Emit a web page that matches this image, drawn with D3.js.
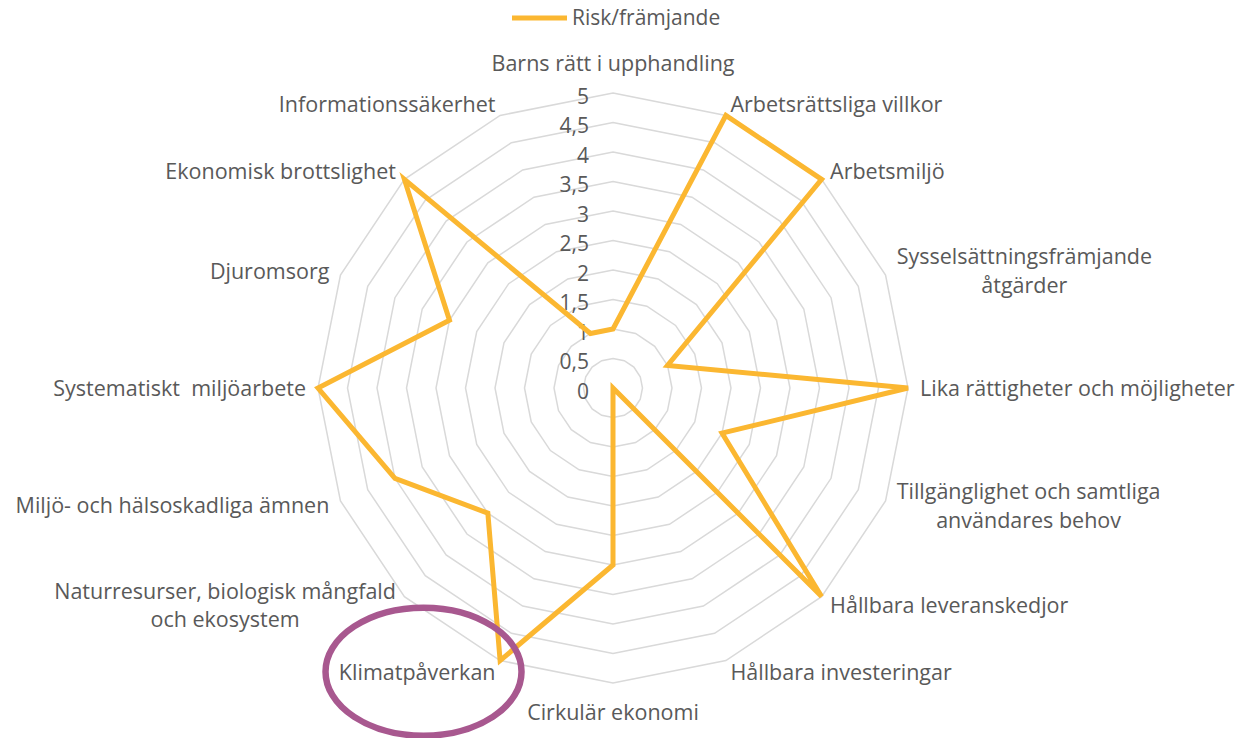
<!DOCTYPE html>
<html>
<head>
<meta charset="utf-8">
<script src="https://cdn.jsdelivr.net/npm/d3@7"></script>
<style>
  body { margin: 0; background: #fff; }
  svg text { font-family: "Open Sans", sans-serif; fill: #595959; white-space: pre; }
</style>
</head>
<body>
<svg id="chart" width="1237" height="738"></svg>
<script>
const categories = [
  "Barns rätt i upphandling",
  "Arbetsrättsliga villkor",
  "Arbetsmiljö",
  "Sysselsättningsfrämjande\nåtgärder",
  "Lika rättigheter och möjligheter",
  "Tillgänglighet och samtliga\nanvändares behov",
  "Hållbara leveranskedjor",
  "Hållbara investeringar",
  "Cirkulär ekonomi",
  "Klimatpåverkan",
  "Naturresurser, biologisk mångfald\noch ekosystem",
  "Miljö- och hälsoskadliga ämnen",
  "Systematiskt  miljöarbete",
  "Djuromsorg",
  "Ekonomisk brottslighet",
  "Informationssäkerhet"
];
const values = [1, 5, 5, 1, 5, 2, 5, 0, 3, 5, 3, 4, 5, 3, 5, 1];
const tickValues = [0, 0.5, 1, 1.5, 2, 2.5, 3, 3.5, 4, 4.5, 5];
const tickLabels = ["0", "0,5", "1", "1,5", "2", "2,5", "3", "3,5", "4", "4,5", "5"];
const seriesName = "Risk/främjande";
const highlighted = "Klimatpåverkan";

const cx = 613, cy = 388, radius = 295;
const lineColor = "#fbb731", gridColor = "#d9d9d9";

const svg = d3.select("#chart");
const r = d3.scaleLinear().domain([0, 5]).range([0, radius]);
const angle = d3.scaleLinear().domain([0, categories.length]).range([0, 2 * Math.PI]);

const g = svg.append("g").attr("transform", `translate(${cx},${cy})`);

// grid rings
const ring = d3.lineRadial()
  .angle((d, i) => angle(i))
  .radius(d => r(d))
  .curve(d3.curveLinearClosed);

g.selectAll("path.ring")
  .data(tickValues.filter(t => t > 0))
  .enter().append("path")
  .attr("class", "ring")
  .attr("d", t => ring(categories.map(() => t)))
  .attr("fill", "none")
  .attr("stroke", gridColor)
  .attr("stroke-width", 1.5);

// tick labels
g.selectAll("text.tick")
  .data(tickValues)
  .enter().append("text")
  .attr("class", "tick")
  .attr("x", -24)
  .attr("y", t => -r(t) + 5)
  .attr("text-anchor", "end")
  .attr("dominant-baseline", "middle")
  .style("font-size", "21px")
  .text((t, i) => tickLabels[i]);

// data line
g.append("path")
  .attr("d", ring(values))
  .attr("fill", "none")
  .attr("stroke", lineColor)
  .attr("stroke-width", 5)
  .attr("stroke-linejoin", "miter");

// category labels
const lineH = 28.5, pad = 12;
categories.forEach((name, i) => {
  const a = angle(i);
  const s = Math.sin(a), c = Math.cos(a);
  const ax = (radius + pad) * s, ay = -(radius + pad) * c;
  const lines = name.split("\n");
  const t = g.append("text")
    .style("font-size", "21.5px")
    .attr("text-anchor", "middle")
    .attr("dominant-baseline", "middle");
  lines.forEach(ln => t.append("tspan").text(ln));
  const w = d3.max(t.selectAll("tspan").nodes(), n => n.getComputedTextLength());
  let bx = ax;
  if (s > 0.01) bx = ax + w / 2;
  else if (s < -0.01) bx = ax - w / 2;
  let by = ay + 2;
  if (Math.abs(s) <= 0.01) by = ay + (c > 0 ? -16 : 19);
  t.selectAll("tspan")
    .attr("x", bx)
    .attr("y", (d, j) => by + (j - (lines.length - 1) / 2) * lineH);
  if (name === highlighted) {
    g.append("ellipse")
      .attr("cx", ax - 72)
      .attr("cy", ay)
      .attr("rx", 98)
      .attr("ry", 64)
      .attr("fill", "none")
      .attr("stroke", "#a8588f")
      .attr("stroke-width", 6.5);
  }
});

// legend
const legend = svg.append("g").attr("transform", "translate(512,18)");
legend.append("line")
  .attr("x1", 0).attr("x2", 55).attr("y1", 0).attr("y2", 0)
  .attr("stroke", lineColor).attr("stroke-width", 5);
legend.append("text")
  .attr("x", 60).attr("y", 1)
  .attr("dominant-baseline", "middle")
  .style("font-size", "21px")
  .text(seriesName);
</script>
</body>
</html>
